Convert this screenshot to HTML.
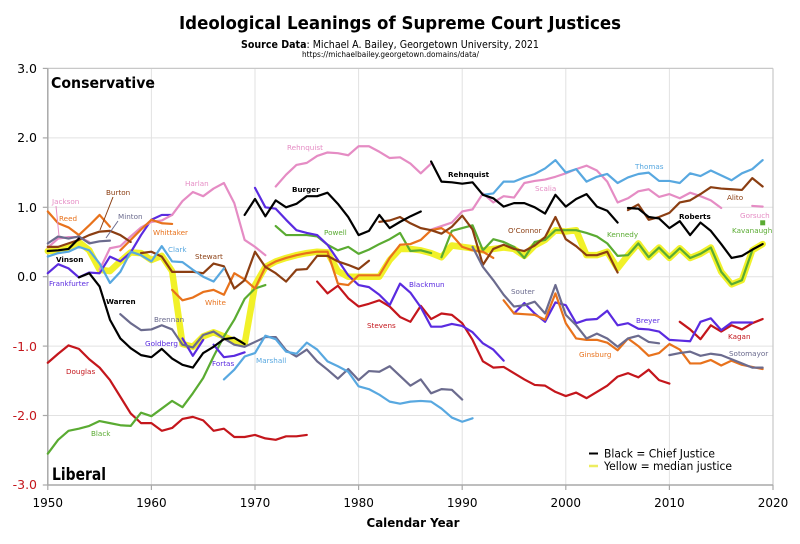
<!DOCTYPE html>
<html><head><meta charset="utf-8"><style>
html,body{margin:0;padding:0;background:#fff;}
svg{display:block;}
text{font-family:"DejaVu Sans","Liberation Sans",sans-serif;}
.l{font-size:7.2px;}
.b{font-weight:bold;}
polyline{fill:none;stroke-width:2.2;stroke-linejoin:round;stroke-linecap:round;}
</style></head><body>
<svg width="800" height="544" viewBox="0 0 800 544" xmlns="http://www.w3.org/2000/svg">
<rect width="800" height="544" fill="#fff"/>
<text x="400" y="29" text-anchor="middle" font-size="18" font-weight="bold" textLength="442" lengthAdjust="spacingAndGlyphs">Ideological Leanings of Supreme Court Justices</text>
<text x="241" y="48" font-size="11" textLength="298" lengthAdjust="spacingAndGlyphs"><tspan font-weight="bold">Source Data</tspan>: Michael A. Bailey, Georgetown University, 2021</text>
<text x="302" y="57" font-size="8" textLength="177" lengthAdjust="spacingAndGlyphs">https://michaelbailey.georgetown.domains/data/</text>

<!-- grid -->
<g stroke="#e2e2e2" stroke-width="1">
<line x1="151.4" y1="68.4" x2="151.4" y2="485"/><line x1="255" y1="68.4" x2="255" y2="485"/>
<line x1="358.6" y1="68.4" x2="358.6" y2="485"/><line x1="462.2" y1="68.4" x2="462.2" y2="485"/>
<line x1="565.8" y1="68.4" x2="565.8" y2="485"/><line x1="669.4" y1="68.4" x2="669.4" y2="485"/>
<line x1="47.8" y1="137.9" x2="773" y2="137.9"/><line x1="47.8" y1="207.3" x2="773" y2="207.3"/>
<line x1="47.8" y1="276.7" x2="773" y2="276.7"/><line x1="47.8" y1="346.1" x2="773" y2="346.1"/>
<line x1="47.8" y1="415.5" x2="773" y2="415.5"/>
</g>
<line x1="47.8" y1="68.4" x2="773" y2="68.4" stroke="#c8c8c8" stroke-width="1.2"/>
<line x1="773" y1="68.4" x2="773" y2="485" stroke="#c8c8c8" stroke-width="1.2"/>
<line x1="47.8" y1="68.4" x2="47.8" y2="485" stroke="#a8a8a8" stroke-width="1.5"/>
<line x1="47.8" y1="485" x2="773" y2="485" stroke="#a8a8a8" stroke-width="1.5"/>
<g stroke="#a8a8a8" stroke-width="1.2">
<line x1="47.8" y1="485" x2="47.8" y2="490"/><line x1="151.4" y1="485" x2="151.4" y2="490"/><line x1="255" y1="485" x2="255" y2="490"/><line x1="358.6" y1="485" x2="358.6" y2="490"/><line x1="462.2" y1="485" x2="462.2" y2="490"/><line x1="565.8" y1="485" x2="565.8" y2="490"/><line x1="669.4" y1="485" x2="669.4" y2="490"/><line x1="773" y1="485" x2="773" y2="490"/>
<line x1="42.8" y1="68.4" x2="47.8" y2="68.4"/><line x1="42.8" y1="137.9" x2="47.8" y2="137.9"/><line x1="42.8" y1="207.3" x2="47.8" y2="207.3"/><line x1="42.8" y1="276.7" x2="47.8" y2="276.7"/><line x1="42.8" y1="346.1" x2="47.8" y2="346.1"/><line x1="42.8" y1="415.5" x2="47.8" y2="415.5"/><line x1="42.8" y1="485" x2="47.8" y2="485"/>
</g>

<!-- axis labels -->
<g font-size="12.5" text-anchor="end">
<text x="37" y="73">3.0</text><text x="37" y="142">2.0</text><text x="37" y="212">1.0</text><text x="37" y="281">0.0</text>
<text x="37" y="351" fill="#c4161c">-1.0</text><text x="37" y="420" fill="#c4161c">-2.0</text><text x="37" y="489" fill="#c4161c">-3.0</text>
</g>
<g font-size="12" text-anchor="middle">
<text x="47.8" y="507">1950</text><text x="151.4" y="507">1960</text><text x="255" y="507">1970</text><text x="358.6" y="507">1980</text><text x="462.2" y="507">1990</text><text x="565.8" y="507">2000</text><text x="669.4" y="507">2010</text><text x="773" y="507">2020</text>
</g>
<text x="413" y="527" text-anchor="middle" font-size="12.5" font-weight="bold" textLength="93" lengthAdjust="spacingAndGlyphs">Calendar Year</text>
<text x="51" y="88" font-size="15" font-weight="bold" textLength="104" lengthAdjust="spacingAndGlyphs">Conservative</text>
<text x="52" y="480" font-size="17" font-weight="bold" textLength="54" lengthAdjust="spacingAndGlyphs">Liberal</text>

<!-- data -->
<g transform="translate(47.8,276.7) scale(10.36,-69.4)">
<!-- median yellow -->
<polyline vector-effect="non-scaling-stroke" style="stroke:#f1f11e;stroke-width:6.5;opacity:0.95" points="0,0.37 1,0.38 2,0.42 3,0.50 4,0.38 5,0.10 6,0.08 7,0.22 8,0.35 9,0.34 10,0.24 11,0.30 12,0.08 13,-0.97 14,-1.01 15,-0.86 16,-0.80 17,-0.86 18,-0.93 19,-0.97 20,-0.12 21,0.14 22,0.22 23,0.27 24,0.31 25,0.34 26,0.36 27,0.35 28,0.08 29,0.0 30,0.0 31,0.0 32,0.0 33,0.24 34,0.40 35,0.40 36,0.38 37,0.34 38,0.28 39,0.45 40,0.43 41,0.41 42,0.38 43,0.40 44,0.42 45,0.40 46,0.30 47,0.45 48,0.53 49,0.67 50,0.65 51,0.67 52,0.31 53,0.31 54,0.36 55,0.12 56,0.31 57,0.48 58,0.28 59,0.42 60,0.27 61,0.41 62,0.27 63,0.33 64,0.42 65,0.07 66,-0.11 67,-0.05 68,0.38 69,0.47"/>

<!-- red seat -->
<g style="stroke:#c4161c">
<polyline vector-effect="non-scaling-stroke" points="0,-1.24 1,-1.11 2,-0.99 3,-1.04 4,-1.19 5,-1.31 6,-1.49 7,-1.73 8,-1.97 9,-2.11 10,-2.11 11,-2.22 12,-2.18 13,-2.05 14,-2.02 15,-2.07 16,-2.22 17,-2.19 18,-2.31 19,-2.31 20,-2.28 21,-2.33 22,-2.35 23,-2.30 24,-2.30 25,-2.28"/>
<polyline vector-effect="non-scaling-stroke" points="26,-0.07 27,-0.24 28,-0.13 29,-0.31 30,-0.43 31,-0.39 32,-0.34 33,-0.43 34,-0.58 35,-0.65 36,-0.42 37,-0.61 38,-0.53 39,-0.55 40,-0.67 41,-0.91 42,-1.22 43,-1.31 44,-1.30 45,-1.39 46,-1.48 47,-1.56 48,-1.57 49,-1.66 50,-1.72 51,-1.67 52,-1.75 53,-1.66 54,-1.57 55,-1.44 56,-1.39 57,-1.45 58,-1.34 59,-1.49 60,-1.54"/>
<polyline vector-effect="non-scaling-stroke" points="61,-0.65 62,-0.76 63,-0.90 64,-0.70 65,-0.79 66,-0.70 67,-0.76 68,-0.67 69,-0.61"/>
</g>
<!-- green seat -->
<g style="stroke:#5aab32">
<polyline vector-effect="non-scaling-stroke" points="0,-2.55 1,-2.35 2,-2.22 3,-2.19 4,-2.15 5,-2.08 6,-2.11 7,-2.14 8,-2.15 9,-1.96 10,-2.01 11,-1.90 12,-1.79 13,-1.88 14,-1.68 15,-1.46 16,-1.15 17,-0.86 18,-0.62 19,-0.32 20,-0.17 21,-0.12"/>
<polyline vector-effect="non-scaling-stroke" points="22,0.73 23,0.60 24,0.60 25,0.60 26,0.58 27,0.46 28,0.38 29,0.43 30,0.33 31,0.39 32,0.47 33,0.54 34,0.63 35,0.37 36,0.38 37,0.34"/>
<polyline vector-effect="non-scaling-stroke" points="38,0.28 39,0.66 40,0.70 41,0.74 42,0.38 43,0.54 44,0.50 45,0.43 46,0.27 47,0.50 48,0.53 49,0.67 50,0.67 51,0.67 52,0.63 53,0.58 54,0.48 55,0.30 56,0.31 57,0.48 58,0.28 59,0.42 60,0.27 61,0.41 62,0.27 63,0.33 64,0.42 65,0.07 66,-0.11 67,-0.05 68,0.38"/>
</g>
<!-- purple seat -->
<g style="stroke:#5a2be0">
<polyline vector-effect="non-scaling-stroke" points="0,0.05 1,0.18 2,0.12 3,-0.01 4,0.06 5,0.05 6,0.29 7,0.22 8,0.35 9,0.60 10,0.82 11,0.89 12,0.89"/>
<polyline vector-effect="non-scaling-stroke" points="13,-0.89 14,-1.14 15,-0.91"/>
<polyline vector-effect="non-scaling-stroke" points="16,-0.98 17,-1.16 18,-1.14 19,-1.09"/>
<polyline vector-effect="non-scaling-stroke" points="20,1.28 21,1.00 22,0.98 23,0.82 24,0.67 25,0.63 26,0.60 27,0.46 28,0.24 29,0.02 30,-0.12 31,-0.15 32,-0.26 33,-0.41 34,-0.10 35,-0.23 36,-0.44 37,-0.72 38,-0.72 39,-0.68 40,-0.71 41,-0.80 42,-0.96 43,-1.05 44,-1.21"/>
<polyline vector-effect="non-scaling-stroke" points="45,-0.53 46,-0.38 47,-0.53 48,-0.65 49,-0.37 50,-0.41 51,-0.67 52,-0.62 53,-0.61 54,-0.49 55,-0.70 56,-0.67 57,-0.75 58,-0.76 59,-0.79 60,-0.91 61,-0.92 62,-0.93 63,-0.65 64,-0.60 65,-0.77 66,-0.66 67,-0.66 68,-0.66"/>
</g>
<!-- pink seat -->
<g style="stroke:#e58cc4">
<polyline vector-effect="non-scaling-stroke" points="0,0.42 1,0.55 2,0.57 3,0.57 4,0.50"/>
<polyline vector-effect="non-scaling-stroke" points="5,0.10 6,0.41 7,0.44 8,0.58 9,0.71 10,0.79 11,0.81 12,0.89 13,1.09 14,1.22 15,1.16 16,1.27 17,1.35 18,1.06 19,0.53 20,0.43 21,0.31"/>
<polyline vector-effect="non-scaling-stroke" points="22,1.30 23,1.47 24,1.61 25,1.64 26,1.74 27,1.79 28,1.78 29,1.75 30,1.88 31,1.88 32,1.80 33,1.71 34,1.72 35,1.63 36,1.49 37,1.63"/>
<polyline vector-effect="non-scaling-stroke" points="37,0.68 38,0.73 39,0.78 40,0.94 41,0.97 42,1.20 43,1.07 44,1.16 45,1.14 46,1.35 47,1.38 48,1.40 49,1.44 50,1.49 51,1.55 52,1.60 53,1.53 54,1.37 55,1.07 56,1.13 57,1.23 58,1.26 59,1.15 60,1.19 61,1.13 62,1.21 63,1.16 64,1.10 65,0.99"/>
<polyline vector-effect="non-scaling-stroke" points="68,1.02 69,1.01"/>
</g>
<!-- orange seat -->
<g style="stroke:#e8721c">
<polyline vector-effect="non-scaling-stroke" points="0,0.94 1,0.77 2,0.71 3,0.60 4,0.74 5,0.89 6,0.72"/>
<polyline vector-effect="non-scaling-stroke" points="7,0.38 8,0.53 9,0.68 10,0.82 11,0.77 12,0.76"/>
<polyline vector-effect="non-scaling-stroke" points="12,-0.19 13,-0.34 14,-0.30 15,-0.22 16,-0.19 17,-0.26 18,0.05 19,-0.04 20,-0.17 21,0.14 22,0.22 23,0.27 24,0.31 25,0.34 26,0.36 27,0.36 28,-0.10 29,-0.12 30,0.02 31,0.02 32,0.02 33,0.27 34,0.46 35,0.47 36,0.53 37,0.67 38,0.70 39,0.60 40,0.43 41,0.38 42,0.36 43,0.27"/>
<polyline vector-effect="non-scaling-stroke" points="44,-0.34 45,-0.53 46,-0.54 47,-0.55 48,-0.62 49,-0.24 50,-0.67 51,-0.89 52,-0.91 53,-0.91 54,-0.95 55,-1.06 56,-0.89 57,-1.00 58,-1.14 59,-1.10 60,-0.97 61,-1.05 62,-1.25 63,-1.25 64,-1.20 65,-1.28 66,-1.21 67,-1.27 68,-1.30 69,-1.33"/>
</g>
<!-- brown seat -->
<g style="stroke:#8b3e12">
<polyline vector-effect="non-scaling-stroke" points="0,0.43 1,0.43 2,0.48 3,0.53 4,0.60 5,0.65 6,0.66 7,0.60 8,0.50"/>
<polyline vector-effect="non-scaling-stroke" points="9,0.34 10,0.36 11,0.29 12,0.07 13,0.07 14,0.07 15,0.05 16,0.19 17,0.15 18,-0.17 19,-0.05 20,0.36 21,0.14 22,0.05 23,-0.07 24,0.10 25,0.11 26,0.30 27,0.30 28,0.22 29,0.17 30,0.11 31,0.23"/>
<polyline vector-effect="non-scaling-stroke" points="32,0.79 33,0.81 34,0.86 35,0.77 36,0.70 37,0.67 38,0.62 39,0.72 40,0.88 41,0.68 42,0.17 43,0.40 44,0.46 45,0.40 46,0.37 47,0.45 48,0.57 49,0.86 50,0.54 51,0.44 52,0.31 53,0.31 54,0.36 55,0.06"/>
<polyline vector-effect="non-scaling-stroke" points="56,0.96 57,1.04 58,0.82 59,0.86 60,0.92 61,1.07 62,1.10 63,1.19 64,1.29 65,1.27 66,1.26 67,1.25 68,1.42 69,1.30"/>
</g>
<!-- slate seat -->
<g style="stroke:#6b6b8e">
<polyline vector-effect="non-scaling-stroke" points="0,0.48 1,0.58 2,0.55 3,0.58 4,0.48 5,0.51 6,0.52"/>
<polyline vector-effect="non-scaling-stroke" points="7,-0.54 8,-0.67 9,-0.77 10,-0.76 11,-0.70 12,-0.76 13,-0.98 14,-1.02 15,-0.84 16,-0.79 17,-0.89 18,-0.98 19,-1.01 20,-0.94 21,-0.87 22,-0.87 23,-1.06 24,-1.15 25,-1.05 26,-1.22 27,-1.34 28,-1.47 29,-1.33 30,-1.49 31,-1.36 32,-1.37 33,-1.29 34,-1.43 35,-1.57 36,-1.48 37,-1.68 38,-1.62 39,-1.63 40,-1.77"/>
<polyline vector-effect="non-scaling-stroke" points="41,0.43 42,0.14 43,-0.05 44,-0.26 45,-0.43 46,-0.41 47,-0.36 48,-0.53 49,-0.12 50,-0.55 51,-0.70 52,-0.89 53,-0.82 54,-0.89 55,-1.01 56,-0.89 57,-0.85 58,-0.94 59,-0.96"/>
<polyline vector-effect="non-scaling-stroke" points="60,-1.13 61,-1.10 62,-1.08 63,-1.14 64,-1.11 65,-1.13 66,-1.19 67,-1.25 68,-1.31 69,-1.31"/>
</g>
<!-- light blue seat -->
<g style="stroke:#58a8e0">
<polyline vector-effect="non-scaling-stroke" points="0,0.29 1,0.34 2,0.36 3,0.43 4,0.38 5,0.19 6,-0.09 7,0.07 8,0.36 9,0.31 10,0.22 11,0.44 12,0.22 13,0.21 14,0.10 15,0.0 16,-0.07 17,0.12"/>
<polyline vector-effect="non-scaling-stroke" points="17,-1.48 18,-1.34 19,-1.15 20,-1.10 21,-0.85 22,-0.90 23,-1.08 24,-1.11 25,-0.95 26,-1.05 27,-1.22 28,-1.29 29,-1.37 30,-1.58 31,-1.62 32,-1.70 33,-1.80 34,-1.83 35,-1.80 36,-1.79 37,-1.80 38,-1.90 39,-2.03 40,-2.09 41,-2.04"/>
<polyline vector-effect="non-scaling-stroke" points="42,1.18 43,1.20 44,1.37 45,1.37 46,1.43 47,1.48 48,1.56 49,1.68 50,1.50 51,1.55 52,1.37 53,1.44 54,1.48 55,1.35 56,1.43 57,1.48 58,1.50 59,1.38 60,1.38 61,1.35 62,1.49 63,1.45 64,1.53 65,1.46 66,1.39 67,1.49 68,1.55 69,1.68"/>
</g>
<!-- chief justices -->
<g style="stroke:#000">
<polyline vector-effect="non-scaling-stroke" points="0,0.37 1,0.38 2,0.40 3,0.55"/>
<polyline vector-effect="non-scaling-stroke" points="3,-0.01 4,0.05 5,-0.14 6,-0.62 7,-0.89 8,-1.03 9,-1.13 10,-1.16 11,-1.04 12,-1.18 13,-1.27 14,-1.31 15,-1.10 16,-1.01 17,-0.90 18,-0.88 19,-0.97"/>
<polyline vector-effect="non-scaling-stroke" points="19,0.89 20,1.12 21,0.87 22,1.10 23,1.00 24,1.05 25,1.16 26,1.16 27,1.21 28,1.05 29,0.86 30,0.60 31,0.66 32,0.89 33,0.70 34,0.79 35,0.87 36,0.94"/>
<polyline vector-effect="non-scaling-stroke" points="37,1.66 38,1.37 39,1.36 40,1.34 41,1.36 42,1.18 43,1.13 44,1.01 45,1.06 46,1.06 47,1.00 48,0.91 49,1.18 50,1.01 51,1.12 52,1.19 53,1.01 54,0.95 55,0.78"/>
<polyline vector-effect="non-scaling-stroke" points="56,0.99 57,0.98 58,0.86 59,0.84 60,0.70 61,0.80 62,0.60 63,0.78 64,0.66 65,0.47 66,0.27 67,0.30 68,0.39 69,0.47"/>
</g>
</g>
<rect x="760.2" y="220.3" width="5" height="5" fill="#5aab32"/>

<!-- leader lines -->
<line x1="56" y1="206" x2="59" y2="236" stroke="#e58cc4" stroke-width="1"/>
<line x1="113" y1="197" x2="100" y2="230" stroke="#8b3e12" stroke-width="1"/>
<line x1="118" y1="221" x2="106" y2="238" stroke="#6b6b8e" stroke-width="1"/>

<!-- justice labels -->
<g class="l">
<text x="52" y="204" fill="#e58cc4">Jackson</text>
<text x="59" y="221" fill="#e8721c">Reed</text>
<text x="106" y="195" fill="#8b3e12">Burton</text>
<text x="118" y="219" fill="#6b6b8e">Minton</text>
<text x="185" y="186" fill="#e58cc4">Harlan</text>
<text x="153" y="235" fill="#e8721c">Whittaker</text>
<text x="168" y="252" fill="#58a8e0">Clark</text>
<text x="195" y="259" fill="#8b3e12">Stewart</text>
<text x="205" y="305" fill="#e8721c">White</text>
<text x="56" y="262" class="b">Vinson</text>
<text x="49" y="286" fill="#5a2be0">Frankfurter</text>
<text x="106" y="304" class="b">Warren</text>
<text x="154" y="322" fill="#6b6b8e">Brennan</text>
<text x="145" y="346" fill="#5a2be0">Goldberg</text>
<text x="212" y="366" fill="#5a2be0">Fortas</text>
<text x="256" y="363" fill="#58a8e0">Marshall</text>
<text x="66" y="374" fill="#c4161c">Douglas</text>
<text x="91" y="436" fill="#5aab32">Black</text>
<text x="287" y="150" fill="#e58cc4">Rehnquist</text>
<text x="292" y="192" class="b">Burger</text>
<text x="324" y="235" fill="#5aab32">Powell</text>
<text x="409" y="287" fill="#5a2be0">Blackmun</text>
<text x="367" y="328" fill="#c4161c">Stevens</text>
<text x="448" y="177" class="b">Rehnquist</text>
<text x="535" y="191" fill="#e58cc4">Scalia</text>
<text x="508" y="233" fill="#8b3e12">O'Connor</text>
<text x="511" y="294" fill="#6b6b8e">Souter</text>
<text x="635" y="169" fill="#58a8e0">Thomas</text>
<text x="607" y="237" fill="#5aab32">Kennedy</text>
<text x="679" y="219" class="b">Roberts</text>
<text x="727" y="200" fill="#8b3e12">Alito</text>
<text x="740" y="218" fill="#e58cc4">Gorsuch</text>
<text x="732" y="233" fill="#5aab32">Kavanaugh</text>
<text x="636" y="323" fill="#5a2be0">Breyer</text>
<text x="579" y="357" fill="#e8721c">Ginsburg</text>
<text x="728" y="339" fill="#c4161c">Kagan</text>
<text x="729" y="356" fill="#6b6b8e">Sotomayor</text>
</g>

<!-- legend -->
<line x1="589" y1="453.5" x2="598" y2="453.5" stroke="#000" stroke-width="2"/>
<line x1="589" y1="466" x2="598" y2="466" stroke="#eded60" stroke-width="2.5"/>
<text x="604" y="457.5" font-size="11.5" textLength="111" lengthAdjust="spacingAndGlyphs">Black = Chief Justice</text>
<text x="604" y="470" font-size="11.5" textLength="128" lengthAdjust="spacingAndGlyphs">Yellow = median justice</text>
</svg>
</body></html>
